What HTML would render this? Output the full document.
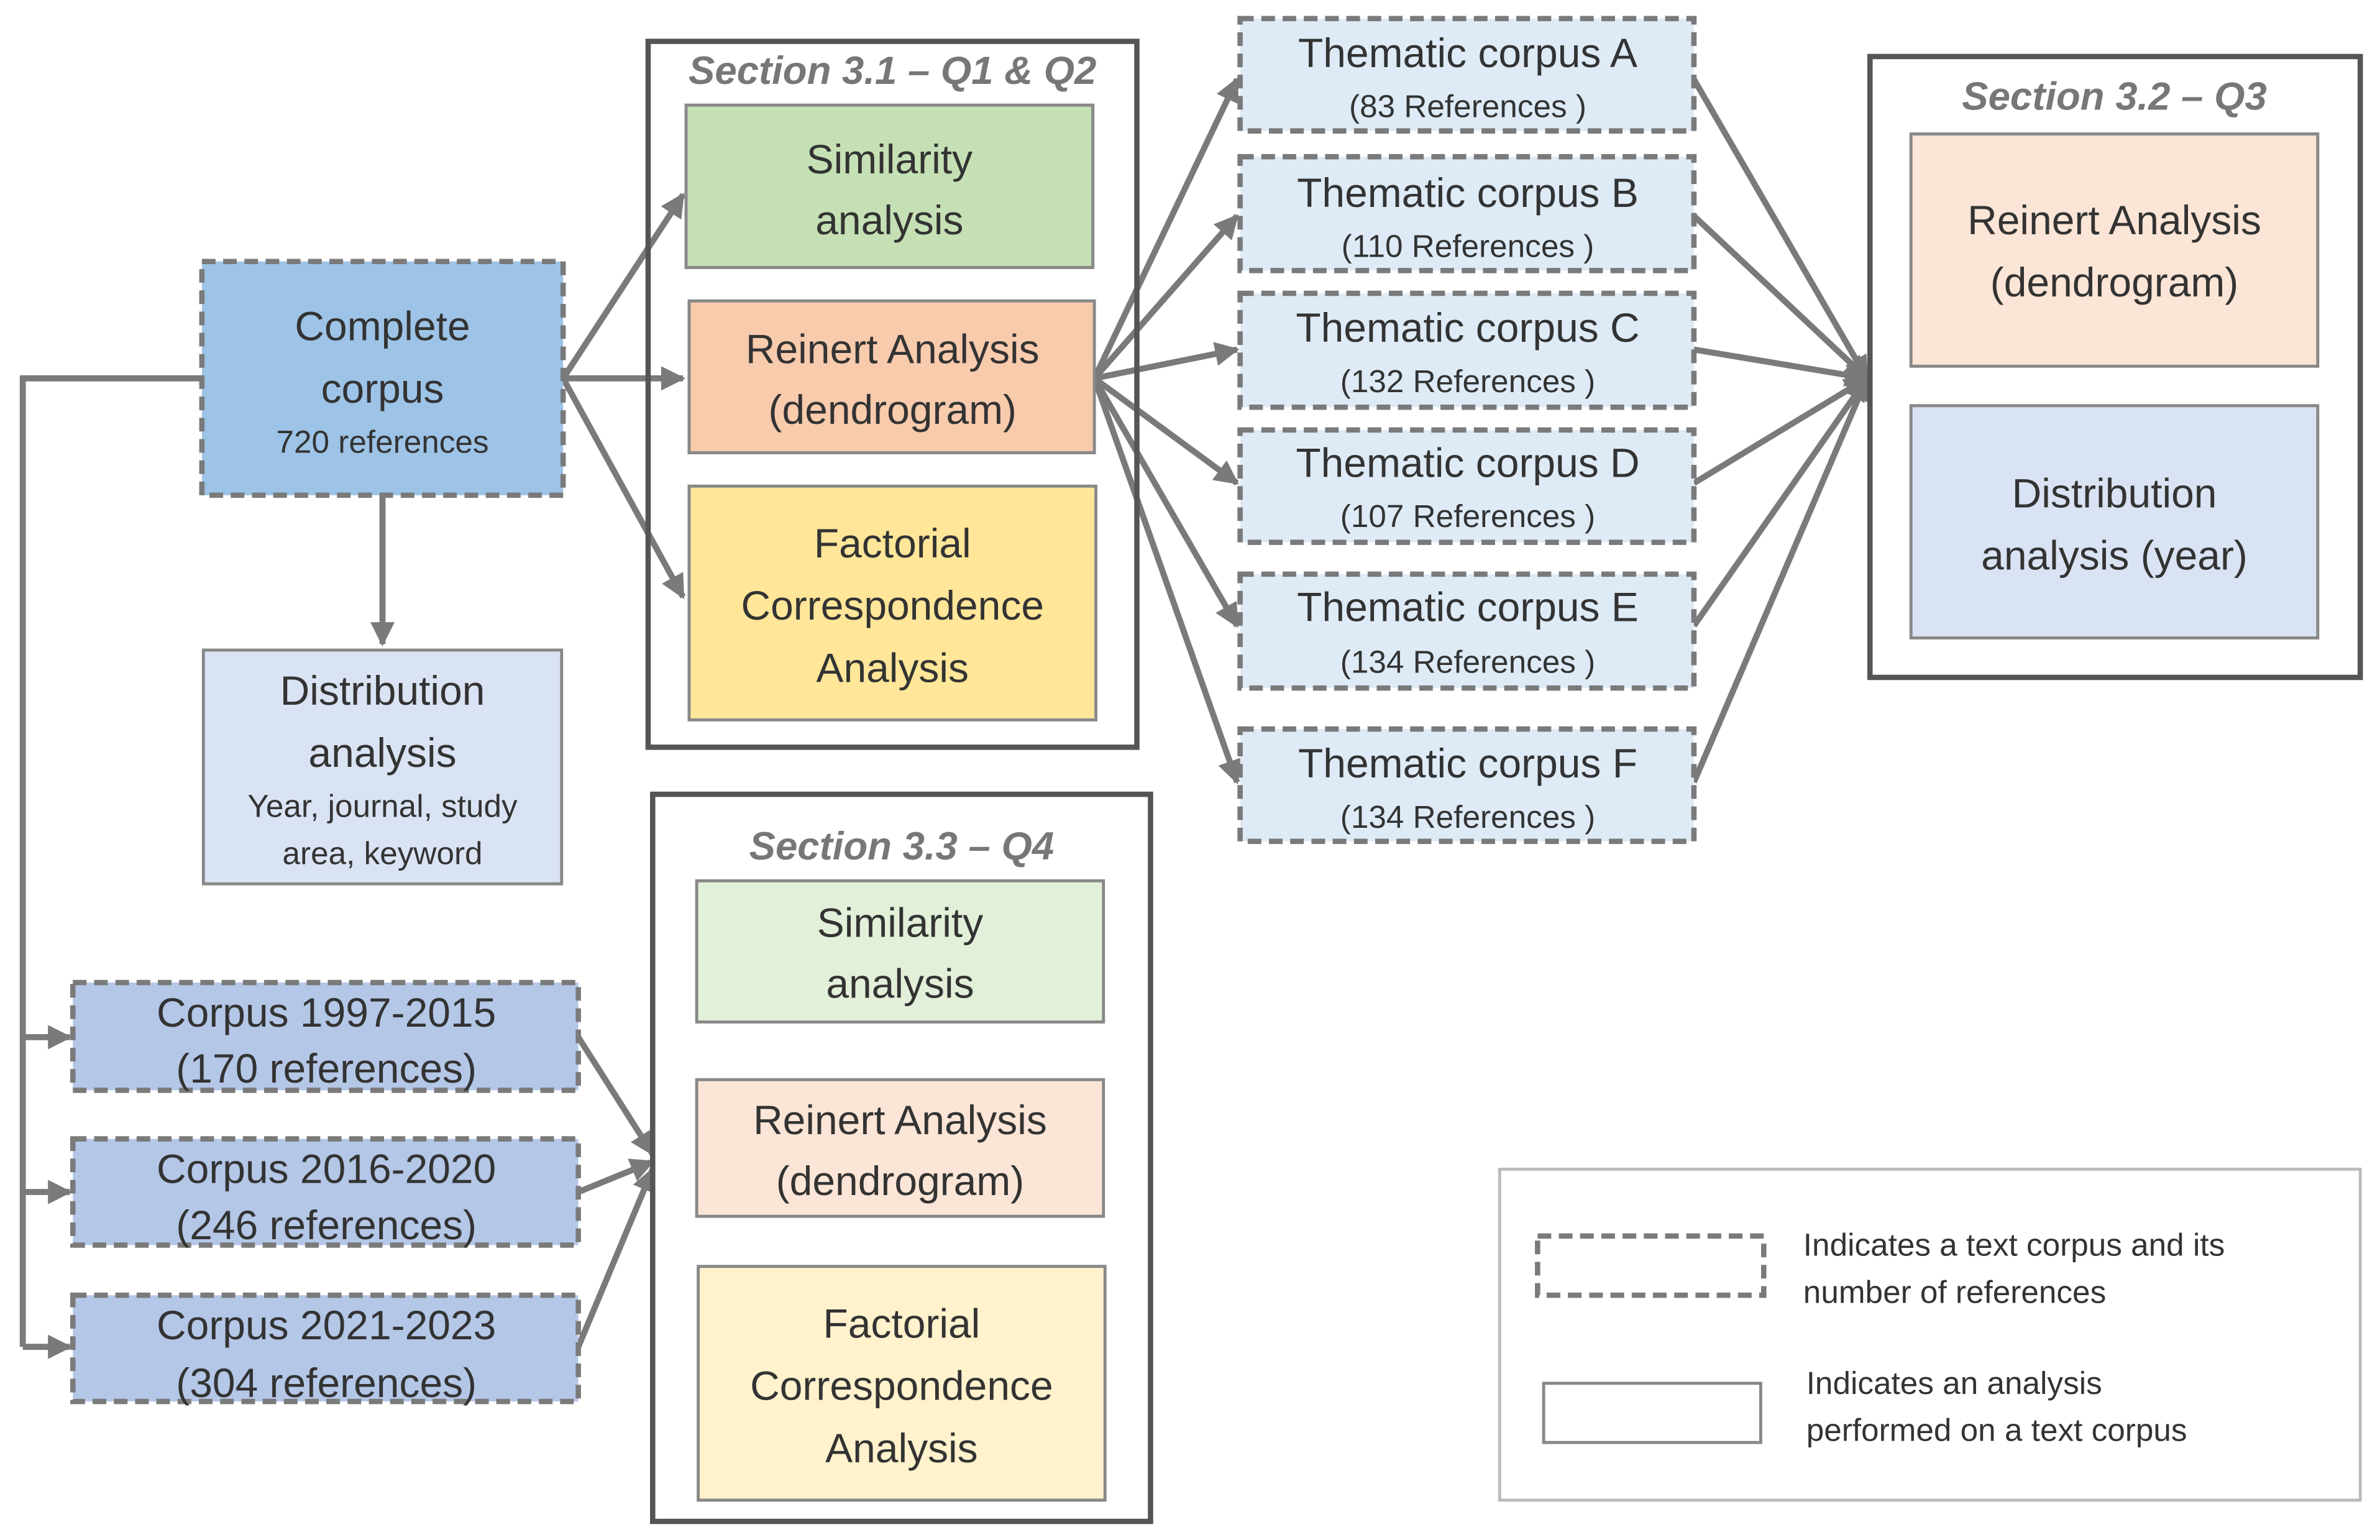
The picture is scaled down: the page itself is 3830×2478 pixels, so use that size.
<!DOCTYPE html>
<html><head><meta charset="utf-8"><style>html,body{margin:0;padding:0;background:#fff}svg{display:block}</style></head>
<body>
<svg width="3830" height="2478" viewBox="0 0 1568 1014" xmlns="http://www.w3.org/2000/svg" font-family="Liberation Sans, sans-serif" fill="#333">
<defs><marker id="a" viewBox="0 0 10 10" refX="9" refY="5" markerWidth="4" markerHeight="4" orient="auto"><path d="M0,0L10,5L0,10z" fill="#7a7a7a"/></marker></defs>
<g stroke="#7a7a7a" stroke-width="4" fill="none">
<path d="M252,326V424" marker-end="url(#a)"/>
<path d="M133,249H15V887"/>
<path d="M15,683H46" marker-end="url(#a)"/><path d="M15,785H46" marker-end="url(#a)"/><path d="M15,887H46" marker-end="url(#a)"/>
<path d="M371,249L450,128" marker-end="url(#a)"/><path d="M371,249H450" marker-end="url(#a)"/><path d="M371,249L450,393" marker-end="url(#a)"/>
<path d="M721,249L815,52" marker-end="url(#a)"/><path d="M721,249L815,142" marker-end="url(#a)"/><path d="M721,249L815,230" marker-end="url(#a)"/>
<path d="M721,249L815,318" marker-end="url(#a)"/><path d="M721,249L815,412" marker-end="url(#a)"/><path d="M721,249L815,515" marker-end="url(#a)"/>
<path d="M1116,52L1230,249" marker-end="url(#a)"/><path d="M1116,142L1230,249" marker-end="url(#a)"/><path d="M1116,230L1230,249" marker-end="url(#a)"/>
<path d="M1116,318L1230,249" marker-end="url(#a)"/><path d="M1116,412L1230,249" marker-end="url(#a)"/><path d="M1116,515L1230,249" marker-end="url(#a)"/>
<path d="M381,683L430,760" marker-end="url(#a)"/><path d="M381,785L430,765" marker-end="url(#a)"/><path d="M381,887L430,770" marker-end="url(#a)"/>
</g>
<g stroke="#7a7a7a" stroke-width="3.5" stroke-dasharray="9,5">
<rect x="133" y="172" width="238" height="154" fill="#9dc3e6"/>
<rect x="48" y="647" width="333" height="71" fill="#b4c7e7"/>
<rect x="48" y="750" width="333" height="70" fill="#b4c7e7"/>
<rect x="48" y="853" width="333" height="70" fill="#b4c7e7"/>
<rect x="817" y="12" width="299" height="74" fill="#deebf7"/>
<rect x="817" y="103" width="299" height="75" fill="#deebf7"/>
<rect x="817" y="193" width="299" height="75" fill="#deebf7"/>
<rect x="817" y="283" width="299" height="74" fill="#deebf7"/>
<rect x="817" y="378" width="299" height="75" fill="#deebf7"/>
<rect x="817" y="480" width="299" height="74" fill="#deebf7"/>
<rect x="1013" y="814" width="149" height="39" fill="#fff"/>
</g>
<g stroke="#888" stroke-width="2">
<rect x="134" y="428" width="236" height="154" fill="#dae3f3"/>
<rect x="452" y="69" width="268" height="107" fill="#c5e0b4"/>
<rect x="454" y="198" width="267" height="100" fill="#f8cbad"/>
<rect x="454" y="320" width="268" height="154" fill="#ffe699"/>
<rect x="1259" y="88" width="268" height="153" fill="#fbe5d6"/>
<rect x="1259" y="267" width="268" height="153" fill="#dae3f3"/>
<rect x="459" y="580" width="268" height="93" fill="#e2f0d9"/>
<rect x="459" y="711" width="268" height="90" fill="#fbe5d6"/>
<rect x="460" y="834" width="268" height="154" fill="#fff2cc"/>
<rect x="1017" y="911" width="143" height="39" fill="#fff"/>
</g>
<g stroke="#555" stroke-width="3.5" fill="none">
<rect x="427" y="27" width="322" height="465"/>
<rect x="1232" y="37" width="323" height="409"/>
<rect x="430" y="523" width="328" height="479"/>
</g>
<rect x="988" y="770" width="567" height="218" fill="none" stroke="#bbb" stroke-width="2"/>
<g font-style="italic" font-weight="bold" fill="#777" font-size="26" text-anchor="middle">
<text x="588" y="55">Section 3.1 – Q1 &amp; Q2</text>
<text x="1393" y="72">Section 3.2 – Q3</text>
<text x="594" y="566">Section 3.3 – Q4</text>
</g>
<g font-size="27" text-anchor="middle">
<text x="252" y="224">Complete</text><text x="252" y="265">corpus</text>
<text x="252" y="298" font-size="21">720 references</text>
<text x="252" y="464">Distribution</text><text x="252" y="505">analysis</text>
<text x="252" y="538" font-size="21">Year, journal, study</text><text x="252" y="569" font-size="21">area, keyword</text>
<text x="215" y="676">Corpus 1997-2015</text><text x="215" y="713">(170 references)</text>
<text x="215" y="779">Corpus 2016-2020</text><text x="215" y="816">(246 references)</text>
<text x="215" y="882">Corpus 2021-2023</text><text x="215" y="920">(304 references)</text>
<text x="586" y="114">Similarity</text><text x="586" y="154">analysis</text>
<text x="588" y="239">Reinert Analysis</text><text x="588" y="279">(dendrogram)</text>
<text x="588" y="367">Factorial</text><text x="588" y="408">Correspondence</text><text x="588" y="449">Analysis</text>
<text x="1393" y="154">Reinert Analysis</text><text x="1393" y="195">(dendrogram)</text>
<text x="1393" y="334">Distribution</text><text x="1393" y="375">analysis (year)</text>
<text x="593" y="617">Similarity</text><text x="593" y="657">analysis</text>
<text x="593" y="747">Reinert Analysis</text><text x="593" y="787">(dendrogram)</text>
<text x="594" y="881">Factorial</text><text x="594" y="922">Correspondence</text><text x="594" y="963">Analysis</text>
<text x="967" y="44">Thematic corpus A</text><text x="967" y="77" font-size="21">(83 References )</text>
<text x="967" y="136">Thematic corpus B</text><text x="967" y="169" font-size="21">(110 References )</text>
<text x="967" y="225">Thematic corpus C</text><text x="967" y="258" font-size="21">(132 References )</text>
<text x="967" y="314">Thematic corpus D</text><text x="967" y="347" font-size="21">(107 References )</text>
<text x="967" y="409">Thematic corpus E</text><text x="967" y="443" font-size="21">(134 References )</text>
<text x="967" y="512">Thematic corpus F</text><text x="967" y="545" font-size="21">(134 References )</text>
</g>
<g font-size="21">
<text x="1188" y="827">Indicates a text corpus and its</text><text x="1188" y="858">number of references</text>
<text x="1190" y="918">Indicates an analysis</text><text x="1190" y="949">performed on a text corpus</text>
</g>
</svg>
</body></html>
